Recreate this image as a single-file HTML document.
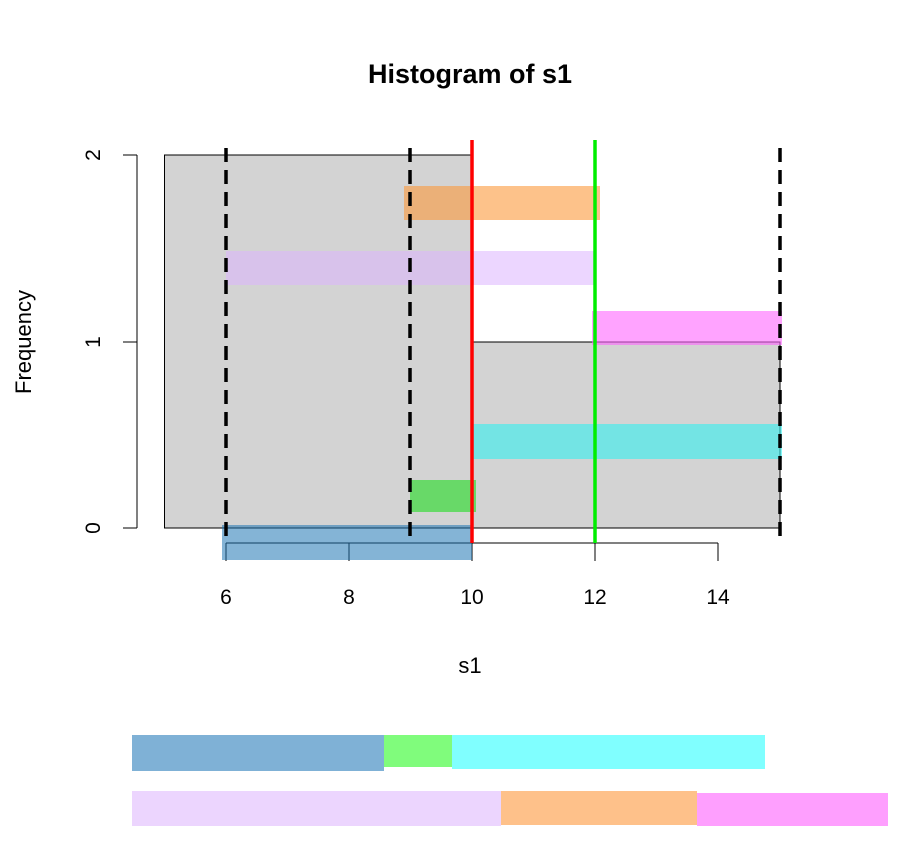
<!DOCTYPE html><html><head><style>body{margin:0;background:#fff}svg{display:block}</style></head><body>
<svg width="900" height="846" xmlns="http://www.w3.org/2000/svg" font-family="Liberation Sans, sans-serif">
<text x="470" y="83" font-size="27" font-weight="bold" text-anchor="middle">Histogram of s1</text>
<rect x="164.5" y="155" width="307.5" height="373" fill="#d3d3d3" stroke="#000" stroke-width="1"/>
<rect x="472" y="342" width="308" height="186" fill="#d3d3d3" stroke="#000" stroke-width="1"/>
<g stroke="#000" stroke-width="1" fill="none">
<path d="M137 155V528M137 155H123M137 342H123M137 528H123"/>
<path d="M226 543H718M226 543V561M349 543V561M472 543V561M595 543V561M718 543V561"/>
</g>
<g font-size="21" text-anchor="middle">
<text x="226" y="604">6</text><text x="349" y="604">8</text><text x="472" y="604">10</text><text x="595" y="604">12</text><text x="718" y="604">14</text>
<text x="470" y="673" font-size="22">s1</text>
<text transform="translate(100,155) rotate(-90)">2</text>
<text transform="translate(100,342) rotate(-90)">1</text>
<text transform="translate(100,528) rotate(-90)">0</text>
<text transform="translate(31,342) rotate(-90)" font-size="22">Frequency</text>
</g>
<rect x="404" y="186" width="196" height="34" fill="#fb9a3c" opacity="0.6"/>
<rect x="226" y="251" width="369" height="34" fill="#dcb5ff" opacity="0.55"/>
<rect x="592" y="311" width="190" height="34" fill="#ff66ff" opacity="0.6"/>
<rect x="472" y="424" width="310" height="35" fill="#33f0f0" opacity="0.6"/>
<rect x="410" y="480" width="66" height="32" fill="#22dd22" opacity="0.6"/>
<rect x="222" y="525" width="250" height="35" fill="#1f77b4" opacity="0.55"/>
<g stroke="#000" stroke-width="3.5" stroke-dasharray="14,8">
<path d="M226 148V543M410 148V543M780 148V543"/>
</g>
<path d="M472 140V543" stroke="#ff0000" stroke-width="3.5"/>
<path d="M595 140V543" stroke="#00ee00" stroke-width="3.5"/>
<rect x="132" y="735" width="252" height="36" fill="#7fb1d6"/>
<rect x="384" y="735" width="68" height="32" fill="#80fc7c"/>
<rect x="452" y="735" width="313" height="34" fill="#80ffff"/>
<rect x="132" y="791" width="369" height="35" fill="#ecd5fe"/>
<rect x="501" y="791" width="196" height="34" fill="#fec18a"/>
<rect x="697" y="793" width="191" height="33" fill="#fe9ffe"/>
</svg></body></html>
